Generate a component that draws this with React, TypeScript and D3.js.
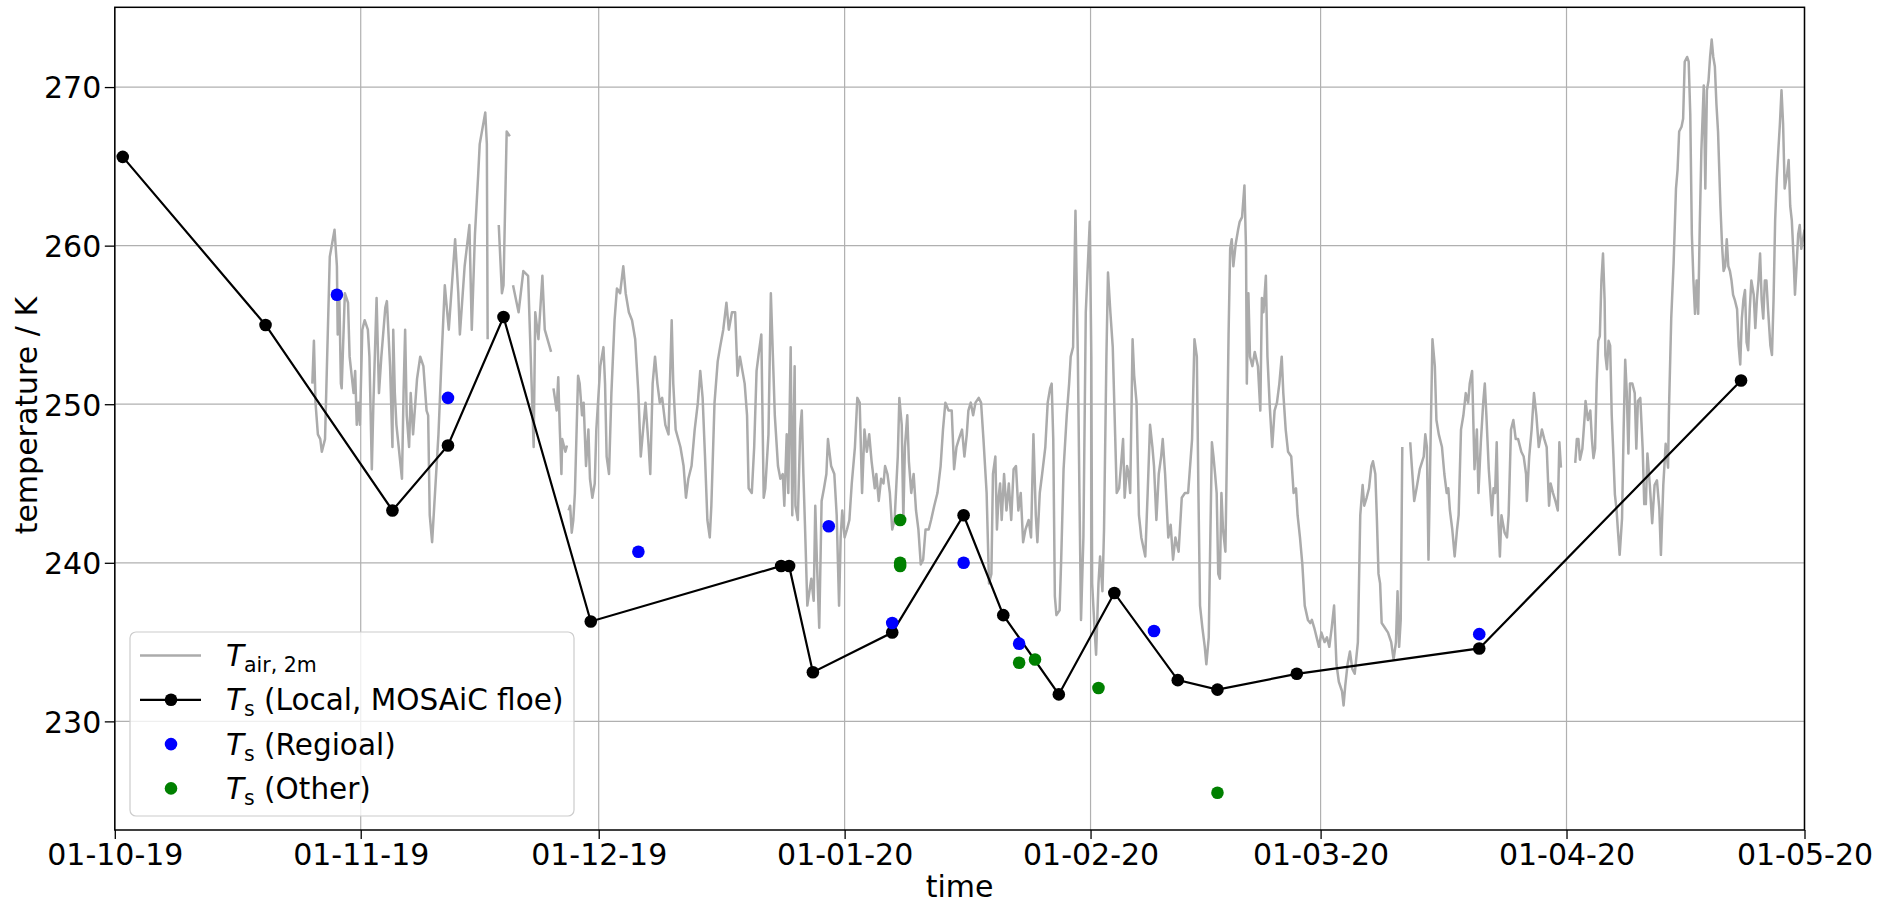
import React, { useEffect, useRef } from 'react';
import * as d3 from 'd3';

// time axis: days since 01-10-19 00:00 (UTC)
const T0 = Date.UTC(2019, 9, 1);
const T1 = Date.UTC(2020, 4, 1);

// 2 m air temperature [day, K], null marks a gap in the record
const tairSeries: [number, number | null][] = [
  [24.9, 251.3], [25.1, 254.0], [25.3, 250.1], [25.6, 248.1], [25.9, 247.8], [26.1, 247.0], [26.5, 247.8], [27.1, 259.3],
  [27.7, 261.0], [28.0, 258.7], [28.1, 254.4], [28.3, 257.0], [28.5, 251.3], [28.6, 251.0], [29.0, 257.0], [29.4, 256.4],
  [29.6, 253.0], [30.1, 250.7], [30.3, 252.1], [30.5, 248.7], [30.7, 250.1], [30.9, 248.7], [31.2, 254.7], [31.5, 255.3],
  [31.9, 254.7], [32.1, 253.0], [32.4, 245.9], [32.6, 250.1], [33.0, 256.7], [33.3, 250.7], [33.6, 253.0], [34.1, 256.1],
  [34.3, 256.5], [34.7, 252.4], [35.0, 247.3], [35.1, 254.7], [35.3, 250.7], [35.5, 248.7], [36.2, 245.3], [36.4, 250.7],
  [36.6, 254.7], [36.8, 249.3], [37.1, 247.3], [37.3, 250.7], [37.6, 248.1], [38.1, 251.6], [38.5, 253.0], [38.9, 252.4],
  [39.3, 249.6], [39.5, 249.3], [39.7, 243.0], [40.0, 241.3], [40.4, 244.7], [40.8, 248.1], [41.2, 253.0], [41.6, 257.5],
  [42.1, 254.7], [42.9, 260.4], [43.3, 257.0], [43.5, 254.4], [44.1, 258.7], [44.7, 261.3], [45.0, 254.7], [45.4, 260.7],
  [45.8, 264.4], [46.0, 266.4], [46.7, 268.4], [46.9, 266.4], [47.0, 254.1], [47.6, null], [48.4, 261.3], [48.8, 257.0],
  [49.0, 257.5], [49.4, 267.2], [49.8, 266.9], [50.0, null], [50.2, 257.5], [50.9, 255.8], [51.5, 258.4], [52.1, 258.1],
  [52.8, 247.3], [53.0, 255.8], [53.4, 254.1], [53.9, 258.1], [54.2, 254.7], [55.0, 253.3], [55.1, null], [55.3, 251.0],
  [55.7, 249.6], [55.9, 251.7], [56.1, 248.4], [56.3, 245.6], [56.4, 247.8], [56.8, 247.0], [57.0, 247.4], [57.1, null],
  [57.2, 243.3], [57.4, 243.6], [57.6, 241.9], [57.8, 242.7], [58.0, 244.4], [58.4, 251.8], [58.6, 251.3], [58.9, 249.3],
  [59.1, 250.1], [59.4, 246.1], [59.7, 248.4], [59.9, 245.3], [60.2, 244.1], [60.5, 245.0], [60.7, 248.4], [61.2, 252.4],
  [61.6, 253.6], [61.8, 251.3], [62.0, 246.7], [62.3, 245.6], [62.6, 250.7], [63.0, 255.3], [63.3, 257.3], [63.7, 257.0],
  [64.1, 258.7], [64.4, 257.0], [64.8, 255.8], [65.2, 255.3], [65.6, 254.1], [66.0, 250.7], [66.3, 246.7], [66.6, 248.4],
  [66.9, 250.1], [67.3, 247.3], [67.5, 245.6], [67.8, 251.3], [68.1, 253.0], [68.4, 251.3], [68.7, 250.1], [69.0, 250.4],
  [69.4, 248.7], [69.8, 248.1], [70.2, 255.3], [70.4, 251.3], [70.7, 248.4], [71.3, 247.3], [71.7, 246.1], [72.0, 244.1],
  [72.3, 245.3], [72.7, 246.1], [73.1, 248.4], [73.5, 250.1], [73.8, 252.1], [74.1, 250.4], [74.4, 246.7], [74.7, 242.7],
  [75.0, 241.6], [75.2, 243.6], [75.6, 250.1], [76.0, 252.7], [76.3, 253.6], [76.7, 254.7], [77.1, 256.4], [77.4, 254.7],
  [77.8, 255.8], [78.2, 255.8], [78.5, 251.8], [78.8, 253.0], [79.4, 251.3], [79.7, 249.3], [79.9, 244.7], [80.3, 244.4],
  [80.6, 247.3], [80.9, 252.1], [81.2, 253.3], [81.5, 254.4], [81.8, 244.1], [82.0, 244.7], [82.4, 248.1], [82.7, 257.0],
  [83.0, 252.4], [83.2, 249.3], [83.6, 246.1], [83.9, 245.3], [84.2, 245.6], [84.4, 243.6], [84.7, 248.1], [84.9, 244.4],
  [85.2, 253.6], [85.4, 243.0], [85.7, 252.4], [85.8, 243.6], [86.1, 242.7], [86.4, 248.4], [86.6, 249.6], [86.8, 245.6],
  [87.0, 242.4], [87.3, 237.3], [87.8, 239.0], [88.1, 237.6], [88.3, 243.6], [88.5, 240.2], [88.8, 235.9], [89.1, 243.9],
  [89.4, 244.7], [89.7, 245.6], [89.9, 247.8], [90.3, 246.1], [90.7, 245.6], [91.0, 243.0], [91.3, 237.3], [91.5, 241.6],
  [91.7, 243.3], [92.0, 241.6], [92.3, 242.1], [92.6, 242.7], [92.9, 245.0], [93.3, 247.3], [93.6, 250.4], [93.9, 250.1],
  [94.2, 244.4], [94.5, 248.4], [94.8, 247.0], [95.1, 248.1], [95.4, 246.4], [95.8, 244.7], [96.0, 245.6], [96.3, 243.9],
  [96.6, 245.3], [96.9, 245.0], [97.1, 246.1], [97.4, 245.6], [97.7, 244.4], [98.0, 242.1], [98.3, 242.7], [98.7, 246.7],
  [98.9, 250.4], [99.2, 248.7], [99.4, 242.7], [99.6, 247.3], [99.9, 249.3], [100.1, 246.4], [100.4, 244.4], [100.7, 245.6],
  [101.0, 243.3], [101.3, 242.1], [101.6, 239.9], [101.9, 240.2], [102.2, 242.1], [102.6, 242.1], [102.9, 242.7], [103.3, 243.6],
  [103.7, 244.4], [104.1, 246.1], [104.4, 248.4], [104.7, 250.1], [105.1, 249.6], [105.5, 249.6], [105.8, 245.9], [106.1, 247.3],
  [106.4, 247.8], [106.8, 248.4], [107.1, 246.7], [107.4, 248.1], [107.6, 249.6], [107.9, 250.1], [108.2, 249.3], [108.5, 250.1],
  [108.9, 250.4], [109.2, 250.1], [109.5, 247.8], [109.9, 244.4], [110.2, 238.7], [110.5, 239.3], [110.7, 245.6], [111.0, 246.7],
  [111.2, 242.1], [111.4, 244.1], [111.6, 245.0], [111.8, 242.7], [112.1, 245.6], [112.4, 243.3], [112.7, 245.0], [113.0, 242.7],
  [113.3, 245.9], [113.6, 246.1], [113.9, 243.3], [114.2, 244.4], [114.5, 241.3], [114.8, 242.1], [115.2, 242.7], [115.5, 241.6],
  [115.8, 248.1], [116.1, 243.0], [116.3, 241.3], [116.6, 244.4], [116.9, 245.6], [117.3, 247.3], [117.6, 250.1], [117.9, 251.0],
  [118.1, 251.3], [118.3, 247.8], [118.5, 237.9], [118.7, 236.7], [119.1, 237.0], [119.3, 240.2], [119.6, 245.9], [120.0, 249.3],
  [120.3, 251.3], [120.5, 253.0], [120.8, 253.6], [121.1, 262.2], [121.4, 253.0], [121.6, 244.4], [121.8, 236.4], [122.1, 241.6],
  [122.4, 255.8], [122.6, 258.1], [122.9, 261.5], [123.1, 253.0], [123.2, 238.7], [123.5, 235.9], [123.7, 234.2], [124.0, 238.7],
  [124.2, 240.4], [124.5, 238.2], [124.7, 242.1], [125.0, 253.0], [125.2, 258.3], [125.5, 255.8], [125.8, 253.6], [126.1, 248.1],
  [126.3, 244.4], [126.6, 244.7], [126.8, 245.9], [127.1, 247.8], [127.3, 244.1], [127.6, 246.1], [127.8, 245.6], [128.0, 244.4],
  [128.3, 254.1], [128.5, 251.8], [128.8, 250.1], [129.1, 243.0], [129.4, 241.6], [129.9, 240.4], [130.2, 244.4], [130.5, 248.7],
  [130.8, 247.3], [131.0, 246.1], [131.3, 242.7], [131.6, 245.6], [131.9, 246.7], [132.1, 247.8], [132.4, 245.6], [132.8, 241.6],
  [133.1, 242.4], [133.4, 240.2], [133.7, 241.6], [134.1, 240.7], [134.5, 244.1], [134.9, 244.4], [135.3, 244.4], [135.8, 247.8],
  [136.1, 254.1], [136.4, 253.0], [136.6, 244.4], [136.8, 237.3], [137.1, 235.9], [137.4, 234.7], [137.6, 233.6], [137.9, 235.3],
  [138.1, 241.6], [138.3, 247.6], [138.5, 246.7], [138.7, 245.6], [138.9, 244.4], [139.1, 239.3], [139.3, 239.0], [139.5, 244.4],
  [139.7, 242.1], [140.0, 240.7], [140.2, 247.3], [140.4, 254.4], [140.6, 259.8], [140.8, 260.4], [141.0, 258.7], [141.3, 260.1],
  [141.6, 261.0], [141.8, 261.5], [142.1, 261.8], [142.4, 263.8], [142.6, 259.8], [142.7, 251.3], [142.9, 257.0], [143.1, 253.0],
  [143.4, 252.4], [143.7, 253.3], [144.1, 252.4], [144.4, 249.6], [144.6, 256.7], [144.8, 255.8], [145.1, 258.1], [145.3, 253.0],
  [145.6, 249.8], [145.9, 247.3], [146.2, 249.6], [146.5, 250.1], [146.8, 251.3], [147.1, 253.0], [147.3, 250.7], [147.6, 248.4],
  [147.9, 247.0], [148.3, 246.7], [148.6, 244.4], [148.9, 244.7], [149.1, 243.0], [149.4, 241.6], [149.7, 239.9], [150.0, 237.3],
  [150.4, 236.4], [150.7, 236.2], [150.9, 236.4], [151.2, 235.9], [151.5, 235.3], [151.8, 234.7], [152.1, 235.6], [152.5, 235.0],
  [152.8, 235.3], [153.1, 234.7], [153.4, 235.9], [153.7, 237.3], [154.0, 233.6], [154.3, 232.5], [154.7, 231.9], [154.9, 231.0],
  [155.1, 232.2], [155.4, 233.6], [155.7, 234.4], [156.0, 233.3], [156.3, 233.0], [156.7, 235.0], [157.0, 243.0], [157.3, 244.9],
  [157.5, 243.6], [157.8, 244.1], [158.1, 244.7], [158.4, 246.1], [158.6, 246.4], [158.9, 245.6], [159.1, 242.7], [159.3, 239.3],
  [159.5, 238.7], [159.7, 236.2], [160.1, 235.9], [160.5, 235.6], [160.9, 235.0], [161.2, 233.9], [161.5, 235.0], [161.7, 238.2],
  [161.9, 234.7], [162.1, 236.4], [162.3, 247.3], [162.8, null], [163.3, 247.6], [163.5, 246.1], [163.8, 243.9], [164.1, 244.7],
  [164.5, 245.9], [165.0, 246.7], [165.2, 248.1], [165.4, 247.3], [165.6, 240.2], [165.8, 245.9], [166.1, 254.1], [166.4, 252.4],
  [166.6, 249.0], [166.9, 248.1], [167.3, 247.3], [167.6, 245.6], [167.9, 244.4], [168.1, 244.7], [168.3, 243.3], [168.6, 242.1],
  [168.9, 240.4], [169.2, 242.1], [169.4, 243.0], [169.7, 248.4], [170.0, 249.3], [170.3, 250.7], [170.6, 250.1], [170.8, 251.3],
  [171.1, 252.1], [171.4, 245.9], [171.7, 248.4], [171.9, 244.4], [172.2, 247.6], [172.5, 250.1], [172.7, 251.3], [172.9, 249.3],
  [173.2, 245.9], [173.6, 243.0], [173.8, 244.7], [174.0, 244.4], [174.2, 247.6], [174.4, 242.7], [174.6, 240.4], [174.8, 243.0],
  [175.2, 241.9], [175.5, 241.6], [175.7, 243.0], [176.0, 248.4], [176.3, 249.0], [176.6, 247.8], [176.9, 247.8], [177.3, 247.0],
  [177.6, 246.7], [177.9, 245.6], [178.0, 243.9], [178.3, 246.7], [178.6, 248.4], [178.9, 250.7], [179.2, 249.3], [179.5, 247.3],
  [179.9, 248.4], [180.2, 247.8], [180.5, 247.3], [180.8, 243.6], [181.0, 245.0], [181.3, 244.4], [181.6, 243.9], [181.9, 243.3],
  [182.1, 247.6], [182.3, 246.0], [183.0, null], [184.1, 246.3], [184.3, 247.8], [184.5, 247.8], [184.7, 246.5], [185.0, 247.2],
  [185.3, 249.3], [185.4, 250.2], [185.7, 249.0], [186.0, 249.6], [186.2, 247.8], [186.4, 246.6], [186.6, 247.2], [186.8, 251.3],
  [187.0, 254.0], [187.2, 254.3], [187.4, 257.8], [187.6, 259.5], [187.8, 256.6], [187.9, 253.1], [188.1, 252.2], [188.3, 254.0],
  [188.5, 253.7], [188.7, 249.3], [188.9, 246.9], [189.1, 244.3], [189.3, 243.4], [189.5, 241.9], [189.7, 240.5], [190.0, 242.8],
  [190.2, 248.4], [190.4, 252.8], [190.6, 250.7], [190.8, 246.9], [191.0, 251.3], [191.3, 251.3], [191.6, 250.7], [191.8, 247.2],
  [192.0, 250.2], [192.3, 250.4], [192.6, 247.2], [192.8, 243.7], [193.0, 243.7], [193.2, 246.9], [193.5, 244.9], [193.8, 242.5],
  [194.1, 244.9], [194.4, 245.2], [194.7, 243.4], [194.9, 240.5], [195.2, 244.9], [195.5, 247.5], [195.8, 246.0], [195.9, 249.3],
  [196.2, 255.4], [196.5, 258.9], [196.8, 263.6], [197.0, 264.8], [197.2, 267.2], [197.5, 267.5], [197.7, 268.0], [197.9, 271.6],
  [198.2, 271.9], [198.4, 271.6], [198.6, 268.3], [198.8, 260.7], [199.0, 257.8], [199.2, 255.7], [199.4, 257.8], [199.6, 255.7],
  [199.8, 261.3], [200.0, 266.0], [200.3, 270.1], [200.5, 263.6], [200.7, 269.8], [200.9, 270.4], [201.1, 271.9], [201.3, 273.0],
  [201.5, 271.9], [201.7, 271.3], [201.9, 268.9], [202.1, 267.2], [202.4, 262.5], [202.6, 260.1], [202.8, 258.4], [203.0, 258.7],
  [203.2, 260.4], [203.4, 258.7], [203.6, 258.4], [203.8, 257.8], [204.0, 256.9], [204.2, 256.6], [204.5, 256.0], [204.7, 253.7],
  [204.9, 252.5], [205.1, 255.4], [205.3, 256.6], [205.5, 257.2], [205.7, 253.9], [205.9, 253.4], [206.1, 256.0], [206.3, 257.8],
  [206.6, 256.9], [206.8, 254.8], [207.0, 256.6], [207.2, 257.8], [207.4, 259.5], [207.6, 256.6], [207.8, 255.4], [208.0, 257.8],
  [208.2, 257.8], [208.4, 256.0], [208.7, 253.7], [208.9, 253.1], [209.1, 256.6], [209.3, 261.6], [209.5, 264.2], [209.7, 266.0],
  [209.9, 267.7], [210.1, 269.8], [210.3, 267.7], [210.5, 263.6], [210.8, 264.5], [211.0, 265.4], [211.2, 262.5], [211.4, 261.6],
  [211.6, 259.5], [211.8, 256.9], [212.0, 258.7], [212.2, 260.7], [212.4, 261.3], [212.6, 259.8], [213.0, 261.0],
];

// surface temperature, local (MOSAiC floe)
const localDates = [
  '2019-10-02', '2019-10-20', '2019-11-05', '2019-11-12', '2019-11-19', '2019-11-30', '2019-12-24',
  '2019-12-25', '2019-12-28', '2020-01-07', '2020-01-16', '2020-01-21', '2020-01-28', '2020-02-04',
  '2020-02-12', '2020-02-17', '2020-02-27', '2020-03-21', '2020-04-23',
];
const localTs = [
  265.6, 255.0, 243.3, 247.4, 255.5, 236.3, 239.8, 239.8, 233.1, 235.6, 243.0, 236.7, 231.7, 238.1,
  232.6, 232.0, 233.0, 234.6, 251.5,
];

// surface temperature, regional
const regionalDates = [
  '2019-10-29', '2019-11-12', '2019-12-06', '2019-12-30', '2020-01-07', '2020-01-16', '2020-01-23',
  '2020-02-09', '2020-03-21',
];
const regionalTs = [256.9, 250.4, 240.7, 242.3, 236.2, 240.0, 234.9, 235.7, 235.5];

// surface temperature, other sites
const otherDates = ['2020-01-08', '2020-01-08', '2020-01-08', '2020-01-23', '2020-01-25', '2020-02-02', '2020-02-17'];
const otherTs = [242.7, 240.0, 239.8, 233.7, 233.9, 232.1, 225.5];

const yTicks = [230, 240, 250, 260, 270];

const W = 1895;
const H = 903;
const FONT = '"DejaVu Sans", sans-serif';
const FS = 30;

const App = () => {
  const svgRef = useRef(null);

  useEffect(() => {
    const svg = d3.select(svgRef.current);
    svg.selectAll('*').remove();

    const margin = { top: 7.3, right: 90.5, bottom: 73, left: 114.8 };
    const x0 = margin.left;
    const x1 = W - margin.right;
    const y0 = margin.top;
    const y1 = H - margin.bottom;

    const parseDay = d3.utcParse('%Y-%m-%d');
    const fromDays = (d: number) => new Date(T0 + d * 864e5);

    const x = d3.scaleUtc().domain([new Date(T0), new Date(T1)]).range([x0, x1]);
    const y = d3.scaleLinear().domain([223.15, 275.03]).range([y1, y0]);

    const monthTicks = x.ticks(d3.utcMonth.every(1));

    svg.append('rect').attr('width', W).attr('height', H).attr('fill', '#ffffff');

    svg.append('clipPath').attr('id', 'plot-clip')
      .append('rect').attr('x', x0).attr('y', y0).attr('width', x1 - x0).attr('height', y1 - y0);

    // grid
    const grid = svg.append('g').attr('stroke', '#b0b0b0').attr('stroke-width', 1.2);
    grid.selectAll('line.vx').data(monthTicks).join('line')
      .attr('x1', (d) => x(d)).attr('x2', (d) => x(d))
      .attr('y1', y0).attr('y2', y1);
    grid.selectAll('line.hy').data(yTicks).join('line')
      .attr('x1', x0).attr('x2', x1)
      .attr('y1', (d) => y(d)).attr('y2', (d) => y(d));

    const plot = svg.append('g').attr('clip-path', 'url(#plot-clip)');

    // air temperature
    const airLine = d3.line<[number, number | null]>()
      .defined((d) => d[1] !== null)
      .x((d) => x(fromDays(d[0])))
      .y((d) => y(d[1] as number));
    plot.append('path')
      .datum(tairSeries)
      .attr('d', airLine)
      .attr('fill', 'none')
      .attr('stroke', '#ababab')
      .attr('stroke-width', 2.5)
      .attr('stroke-linejoin', 'round');

    // local Ts
    const local = localDates.map((d, i) => ({ t: parseDay(d) as Date, v: localTs[i] }));
    const localLine = d3.line<{ t: Date; v: number }>().x((d) => x(d.t)).y((d) => y(d.v));
    plot.append('path')
      .datum(local)
      .attr('d', localLine)
      .attr('fill', 'none')
      .attr('stroke', '#000000')
      .attr('stroke-width', 2.2);
    plot.selectAll('circle.local').data(local).join('circle')
      .attr('cx', (d) => x(d.t)).attr('cy', (d) => y(d.v)).attr('r', 6.3).attr('fill', '#000000');

    const regional = regionalDates.map((d, i) => ({ t: parseDay(d) as Date, v: regionalTs[i] }));
    plot.selectAll('circle.regional').data(regional).join('circle')
      .attr('cx', (d) => x(d.t)).attr('cy', (d) => y(d.v)).attr('r', 6.3).attr('fill', '#0000ff');

    const other = otherDates.map((d, i) => ({ t: parseDay(d) as Date, v: otherTs[i] }));
    plot.selectAll('circle.other').data(other).join('circle')
      .attr('cx', (d) => x(d.t)).attr('cy', (d) => y(d.v)).attr('r', 6.3).attr('fill', '#008000');

    // axes
    const xAxis = d3.axisBottom(x)
      .tickValues(monthTicks)
      .tickFormat((d) => d3.utcFormat('%d-%m-%y')(d as Date))
      .tickSize(9)
      .tickSizeOuter(0)
      .tickPadding(5);
    const gx = svg.append('g').attr('transform', `translate(0,${y1})`).call(xAxis);
    gx.select('.domain').remove();
    gx.selectAll('line').attr('stroke', '#000000').attr('stroke-width', 1.3);
    gx.selectAll('text').attr('font-family', FONT).attr('font-size', FS).attr('fill', '#000000');

    const yAxis = d3.axisLeft(y).tickValues(yTicks).tickSize(10).tickSizeOuter(0).tickPadding(3.5);
    const gy = svg.append('g').attr('transform', `translate(${x0},0)`).call(yAxis);
    gy.select('.domain').remove();
    gy.selectAll('line').attr('stroke', '#000000').attr('stroke-width', 1.3);
    gy.selectAll('text').attr('font-family', FONT).attr('font-size', FS).attr('fill', '#000000').attr('dy', '0.36em');

    // frame
    svg.append('rect')
      .attr('x', x0).attr('y', y0).attr('width', x1 - x0).attr('height', y1 - y0)
      .attr('fill', 'none').attr('stroke', '#000000').attr('stroke-width', 1.5);

    svg.append('text')
      .attr('x', (x0 + x1) / 2).attr('y', 897)
      .attr('text-anchor', 'middle')
      .attr('font-family', FONT).attr('font-size', FS)
      .text('time');

    svg.append('text')
      .attr('transform', `translate(37,${(y0 + y1) / 2 - 3}) rotate(-90)`)
      .attr('text-anchor', 'middle')
      .attr('font-family', FONT).attr('font-size', FS)
      .text('temperature / K');

    // legend
    const lg = svg.append('g');
    lg.append('rect')
      .attr('x', 130).attr('y', 632).attr('width', 444).attr('height', 184).attr('rx', 6)
      .attr('fill', '#ffffff').attr('fill-opacity', 0.8)
      .attr('stroke', '#cccccc').attr('stroke-width', 1.2);

    const rows = [
      { sub: 'air, 2m', rest: '', kind: 'air' },
      { sub: 's', rest: ' (Local, MOSAiC floe)', kind: 'local' },
      { sub: 's', rest: ' (Regioal)', kind: 'regional' },
      { sub: 's', rest: ' (Other)', kind: 'other' },
    ];
    rows.forEach((r, i) => {
      const cy = 655.5 + i * 44.3;
      if (r.kind === 'air') {
        lg.append('line').attr('x1', 140).attr('x2', 201).attr('y1', cy).attr('y2', cy)
          .attr('stroke', '#ababab').attr('stroke-width', 2.5);
      } else if (r.kind === 'local') {
        lg.append('line').attr('x1', 140).attr('x2', 201).attr('y1', cy).attr('y2', cy)
          .attr('stroke', '#000000').attr('stroke-width', 2.2);
        lg.append('circle').attr('cx', 171).attr('cy', cy).attr('r', 6.3).attr('fill', '#000000');
      } else {
        lg.append('circle').attr('cx', 171).attr('cy', cy).attr('r', 6.3)
          .attr('fill', r.kind === 'regional' ? '#0000ff' : '#008000');
      }
      const t = lg.append('text')
        .attr('x', 226).attr('y', cy + 10.5)
        .attr('font-family', FONT).attr('font-size', 29.5)
        .style('white-space', 'pre');
      t.append('tspan').attr('font-style', 'italic').text('T');
      t.append('tspan').attr('font-size', 20.5).attr('dy', 6).text(r.sub);
      if (r.rest) t.append('tspan').attr('font-size', 29.5).attr('dy', -6).text(r.rest);
    });
  }, []);

  return (
    <svg
      ref={svgRef}
      width={W}
      height={H}
      style={{ position: 'absolute', left: 0, top: 0, display: 'block' }}
    />
  );
};

export default App;
